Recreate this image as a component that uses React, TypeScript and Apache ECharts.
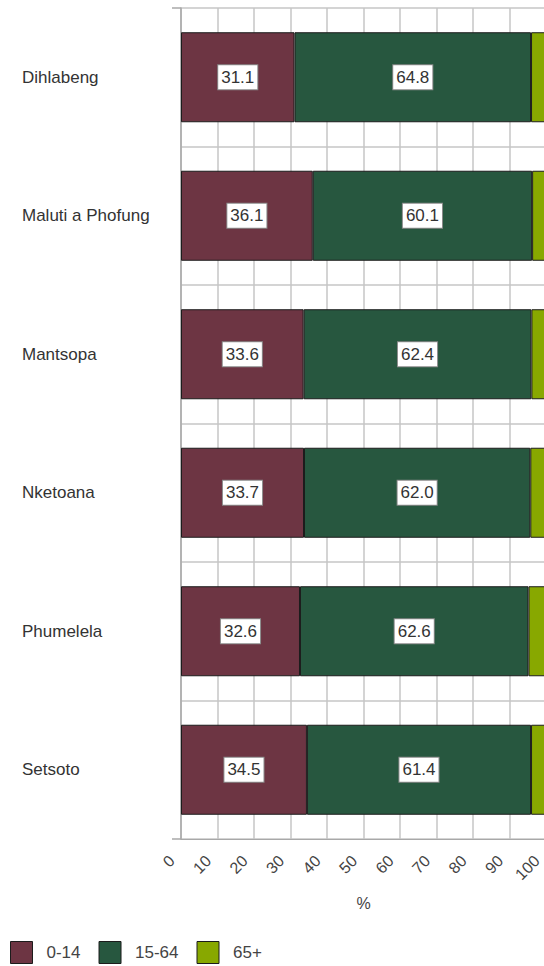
import React, { useEffect, useRef } from "react";
import * as echarts from "echarts";

// Population share by age group per local municipality (%)
const municipalities = ["Dihlabeng", "Maluti a Phofung", "Mantsopa", "Nketoana", "Phumelela", "Setsoto"];
const age0to14 = [31.1, 36.1, 33.6, 33.7, 32.6, 34.5];
const age15to64 = [64.8, 60.1, 62.4, 62.0, 62.6, 61.4];
const age65plus = [4.1, 3.8, 4.0, 4.3, 4.8, 4.1];
const groupNames = ["0-14", "15-64", "65+"];
const groupColors = ["#6d3543", "#27573f", "#88a800"];

const FONT = "'Liberation Sans', Arial, sans-serif";

export default function App() {
  const ref = useRef<HTMLDivElement>(null);

  useEffect(() => {
    document.body.style.margin = "0";
    document.body.style.overflow = "hidden";
    if (!ref.current) return;
    const chart = echarts.init(ref.current, null, { renderer: "svg" });

    const valueLabel = {
      show: true,
      position: "inside",
      color: "#333",
      fontFamily: FONT,
      fontSize: 17,
      backgroundColor: "#ffffff",
      borderColor: "#8a8a8a",
      borderWidth: 1,
      padding: [4, 3, 3, 3],
      formatter: (p: any) => Number(p.value).toFixed(1),
    };

    const makeSeries = (name: string, data: number[], color: string, withLabel: boolean) => ({
      name,
      type: "bar",
      stack: "total",
      barWidth: "65%",
      data,
      itemStyle: { color, borderColor: "#1c1c1c", borderWidth: 1 },
      label: withLabel ? valueLabel : { show: false },
    });

    chart.setOption({
      animation: false,
      textStyle: { fontFamily: FONT },
      grid: { left: 181, right: -2, top: 8, bottom: 127, containLabel: false, outerBoundsMode: "none" },
      legend: {
        left: 5,
        top: 936,
        itemWidth: 22,
        itemHeight: 22,
        itemGap: 18,
        icon: "rect",
        itemStyle: { borderColor: "#1c1c1c", borderWidth: 1 },
        textStyle: { fontSize: 17, color: "#444", fontFamily: FONT, padding: [0, 0, 0, 9] },
        data: groupNames,
      },
      xAxis: {
        type: "value",
        min: 0,
        max: 100,
        interval: 10,
        name: "%",
        nameLocation: "middle",
        nameGap: 56,
        nameTextStyle: { fontSize: 16, color: "#444", fontFamily: FONT },
        axisLine: { show: true, lineStyle: { color: "#a8a8a8", width: 1 } },
        axisTick: { show: false },
        axisLabel: {
          rotate: 45,
          fontSize: 16,
          color: "#444",
          margin: 10,
          padding: [0, 13, 0, 0],
          fontFamily: FONT,
        },
        splitLine: { show: true, lineStyle: { color: "#c6c6c6", width: 1.5 } },
      },
      yAxis: {
        type: "category",
        inverse: true,
        data: municipalities,
        axisLine: { show: true, lineStyle: { color: "#a8a8a8", width: 1.5 } },
        axisTick: {
          show: true,
          length: 9,
          interval: (index: number) => index === 0,
          lineStyle: { color: "#a8a8a8", width: 1.5 },
        },
        axisLabel: { align: "left", margin: 159, fontSize: 17, color: "#333", fontFamily: FONT },
        splitLine: { show: true, lineStyle: { color: "#c6c6c6", width: 1.5 } },
      },
      series: [
        makeSeries(groupNames[0], age0to14, groupColors[0], true),
        makeSeries(groupNames[1], age15to64, groupColors[1], true),
        makeSeries(groupNames[2], age65plus, groupColors[2], false),
      ],
    });

    return () => chart.dispose();
  }, []);

  return <div ref={ref} style={{ width: 544, height: 966 }} />;
}
